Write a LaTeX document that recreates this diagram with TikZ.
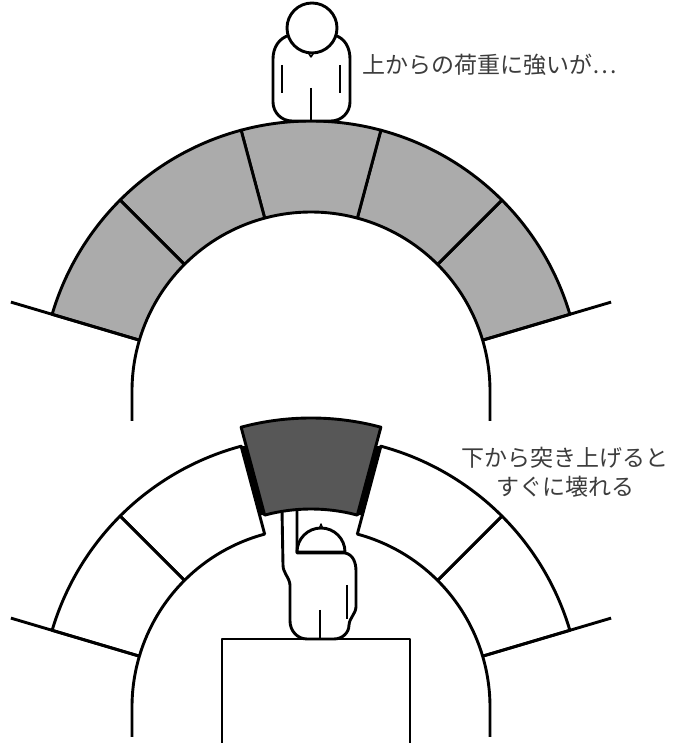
\documentclass[tikz,border=0pt]{standalone}
\usepackage{fontspec}
\newfontfamily\jpfont{Noto Sans CJK JP}
\usetikzlibrary{calc}

\definecolor{stonegray}{HTML}{ABABAB}
\definecolor{keygray}{HTML}{575757}
\definecolor{textgray}{HTML}{3C3C3C}

% one stone of the arch, from angle #1 to angle #2, filled with #3
\newcommand{\archstone}[3]{%
  \filldraw[fill=#3] (#1:179) -- (#1:270)
    arc[start angle=#1,end angle=#2,radius=270] -- (#2:179)
    arc[start angle=#2,end angle=#1,radius=179] -- cycle;}

% ledges and jambs on both sides of an arch
\newcommand{\archsides}{%
  \draw (16.5:179) -- (16.5:313);
  \draw (163.5:179) -- (163.5:313);
  \draw (16.5:179) arc[start angle=16.5,end angle=0,radius=179] -- ++(0,-30);
  \draw (163.5:179) arc[start angle=163.5,end angle=180,radius=179] -- ++(0,-30);}

% dark gap between a side stone and the lifted key stone, joint at angle #1
\newcommand{\keygap}[1]{%
  \fill ($(#1:179)!.216!(#1:270)$) -- (#1:270)
    -- ($(#1:179)!.784!(#1:270)+(0,19)$) -- ($(#1:179)+(0,19)$) -- cycle;}

\begin{document}
\begin{tikzpicture}
  [x=1pt,y=1pt,line width=2.9pt,line join=round,
   caption/.style={font=\jpfont\fontsize{23}{29}\selectfont,text=textgray,inner sep=0pt},
   body/.style={fill=white}]
  \useasboundingbox (0,0) rectangle (676,747);

  % upper arch
  \begin{scope}[shift={(311,356)}]
    \archstone{16.5}{45}{stonegray}
    \archstone{45}{75}{stonegray}
    \archstone{75}{105}{stonegray}
    \archstone{105}{135}{stonegray}
    \archstone{135}{163.5}{stonegray}
    \archsides
  \end{scope}

  % man standing on top
  \filldraw[body] (290,712) to[out=195,in=90] (273,688) -- (273,645)
    to[out=-90,in=180] (292,626) -- (331,626) to[out=0,in=-90] (350,645)
    -- (350,688) to[out=90,in=-15] (334,712) -- cycle;
  \filldraw[body] (312,719) circle[radius=25];
  \draw[line width=1.5pt] (308.5,694) -- (311,690) -- (313.5,694);
  \draw (282,682) -- (282,654);
  \draw (340,682) -- (340,654);
  \draw (311,659) -- (311,626);

  \node[caption,anchor=west] (load_text) at (361,682) {上からの荷重に強いが…};

  % lower arch, key stone pushed out
  \begin{scope}[shift={(311,40)}]
    \archstone{16.5}{45}{white}
    \archstone{45}{75}{white}
    \archstone{105}{135}{white}
    \archstone{135}{163.5}{white}
    \archsides
  \end{scope}

  % man pushing from below
  \filldraw[body] (282,237) -- (283,182) to[out=-90,in=95] (290,162) -- (290,126)
    to[out=-90,in=180] (307,108) -- (334,108) to[out=0,in=-90] (349,122)
    to[out=85,in=-95] (356,140) -- (356,176) to[out=90,in=-10] (345,194)
    -- (297,194) -- (297,237);
  \filldraw[body] (297,195) arc[start angle=180,end angle=0,radius=24] -- cycle;
  \draw[line width=1.4pt] (319.5,219) -- (321,223) -- (322.5,219);
  \draw (347,162) -- (347,128);
  \draw (320,137) -- (320,108);

  % pedestal
  \draw (222,4) -- (222,108) -- (410,108) -- (410,4);

  \begin{scope}[shift={(311,40)}]
    \keygap{75}
    \keygap{105}
  \end{scope}
  \begin{scope}[shift={(311,59)}]
    \archstone{75}{105}{keygray}
  \end{scope}

  \node[caption,align=center] (break_text) at (565,275) {下から突き上げると\\すぐに壊れる};
\end{tikzpicture}
\end{document}
